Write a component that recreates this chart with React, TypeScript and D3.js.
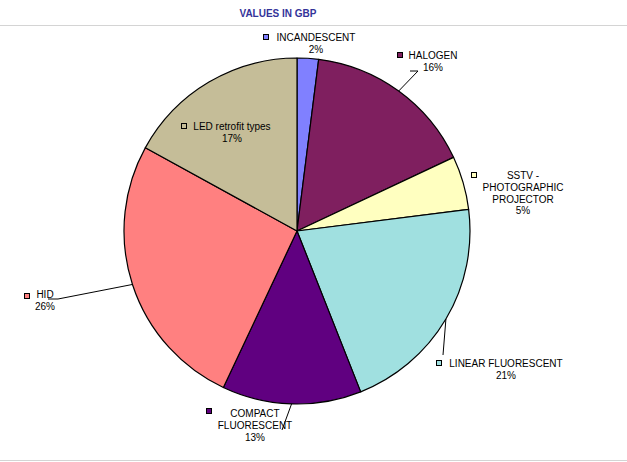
import React from "react";
import * as d3 from "d3";

const categories = [
  "INCANDESCENT",
  "HALOGEN",
  "SSTV - PHOTOGRAPHIC PROJECTOR",
  "LINEAR FLUORESCENT",
  "COMPACT FLUORESCENT",
  "HID",
  "LED retrofit types",
];
const values = [2, 16, 5, 21, 13, 26, 17];
const colors = ["#8080ff", "#7f1f5f", "#ffffc0", "#a0e0e0", "#600080", "#ff8080", "#c5bd98"];
const title = "VALUES IN GBP";

// label layout: lines, square position, text anchor x, first baseline, leader end points
const labelLayout = [
  { lines: ["INCANDESCENT", "2%"], sq: [263, 34], tx: [316, 316], ty: 41, leader: null },
  { lines: ["HALOGEN", "16%"], sq: [397, 52], tx: [433, 433], ty: 59, leader: [[418, 71], [410, 71]] },
  { lines: ["SSTV -", "PHOTOGRAPHIC", "PROJECTOR", "5%"], sq: [471, 172], tx: [523, 523, 523, 523], ty: 179, leader: null },
  { lines: ["LINEAR FLUORESCENT", "21%"], sq: [436, 360], tx: [506, 506], ty: 367, leader: [[443, 355]] },
  { lines: ["COMPACT", "FLUORESCENT", "13%"], sq: [206, 408], tx: [255, 255, 255], ty: 417, leader: [[282, 430]] },
  { lines: ["HID", "26%"], sq: [24, 293], tx: [45, 45], ty: 298, leader: [[58, 299], [48, 299]] },
  { lines: ["LED retrofit types", "17%"], sq: [181, 123], tx: [232, 232], ty: 130, leader: null },
];

export default function App() {
  const W = 627, H = 462;
  const cx = 297, cy = 231, r = 173;
  const pie = d3.pie<number>().sort(null).value((d) => d)(values);
  const arc = d3.arc<d3.PieArcDatum<number>>().innerRadius(0).outerRadius(r);
  const font = "Arial, 'Liberation Sans', sans-serif";
  const lineH = 11.8;

  return (
    <div style={{ position: "fixed", left: 0, top: 0 }}>
      <svg width={W} height={H} style={{ display: "block", background: "#fff" }}>
        <text x={278} y={17} textAnchor="middle" fontFamily={font} fontSize={10} fontWeight="bold" fill="#333399">
          {title}
        </text>
        <line x1={0} x2={W} y1={25.5} y2={25.5} stroke="#d4d4d4" strokeWidth={1} />
        <line x1={0} x2={W} y1={460.5} y2={460.5} stroke="#d4d4d4" strokeWidth={1} />
        <g transform={`translate(${cx},${cy})`}>
          {pie.map((p, i) => (
            <path key={i} d={arc(p) || ""} fill={colors[i]} stroke="#000" strokeWidth={1.2} strokeLinejoin="round" />
          ))}
        </g>
        {pie.map((p, i) => {
          const L = labelLayout[i];
          const mid = (p.startAngle + p.endAngle) / 2;
          const ex = cx + r * Math.sin(mid);
          const ey = cy - r * Math.cos(mid);
          const pts = L.leader ? [[ex, ey], ...L.leader] : null;
          return (
            <g key={i}>
              {pts && (
                <polyline points={pts.map((q) => q.join(",")).join(" ")} fill="none" stroke="#000" strokeWidth={1} />
              )}
              <rect x={L.sq[0] + 0.5} y={L.sq[1] + 0.5} width={5} height={5} fill={colors[i]} stroke="#000" strokeWidth={1} />
              {L.lines.map((t, j) => (
                <text
                  key={j}
                  x={L.tx[j]}
                  y={L.ty + j * lineH}
                  textAnchor="middle"
                  fontFamily={font}
                  fontSize={10}
                  fill="#000"
                >
                  {t}
                </text>
              ))}
            </g>
          );
        })}
      </svg>
    </div>
  );
}
